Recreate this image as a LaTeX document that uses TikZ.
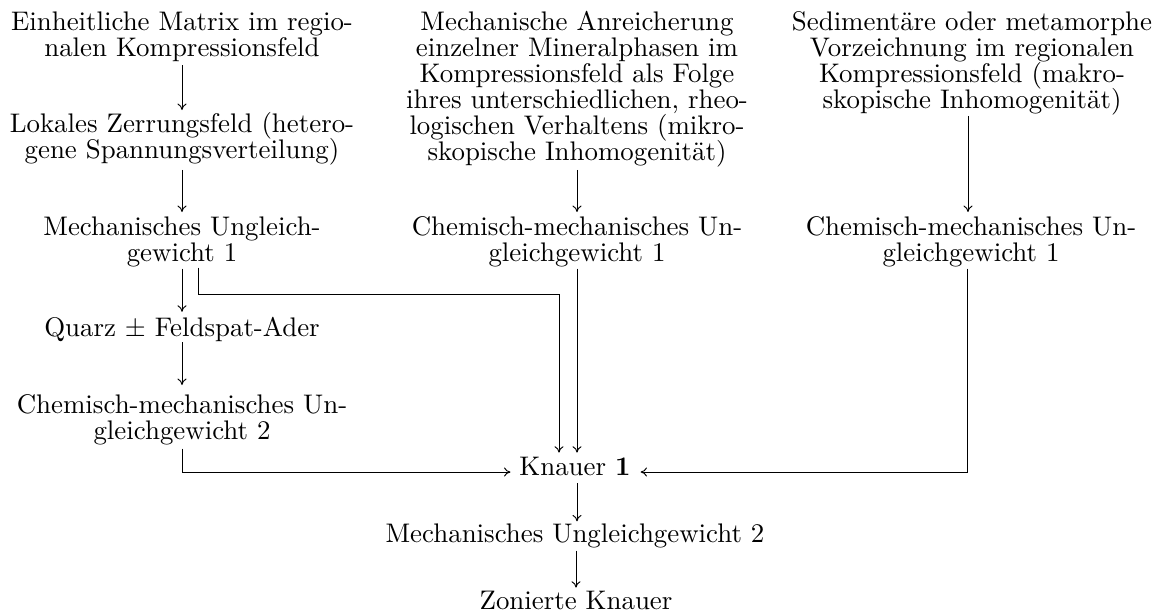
\documentclass[tikz,border=0pt]{standalone}
\usetikzlibrary{arrows.meta,calc}
\newcommand{\fstrut}{\vphantom{(}}
\begin{document}
\begin{tikzpicture}[x=0.372pt,y=-0.372pt,
  box/.style={inner sep=0pt, outer sep=0pt, align=center,
    font={\fontsize{10}{9.67}\selectfont\lineskiplimit=-20pt\lineskip=0pt}},
  arr/.style={-{To[length=2.4pt,width=3.4pt]}, line width=0.35pt}]
\useasboundingbox (0,0) rectangle (1162,611);
% left column
\node[box,anchor=north] (A1) at (182,10) {\fstrut Einheitliche Matrix im regio-\\nalen Kompressionsfeld};
\node[box,anchor=north] (A2) at (182,112) {\fstrut Lokales Zerrungsfeld (hetero-\\gene Spannungsverteilung)};
\node[box,anchor=north] (A3) at (182,215) {\fstrut Mechanisches Ungleich-\\gewicht 1};
\node[box,anchor=base] (Q) at (182,336) {Quarz $\pm$ Feldspat-Ader};
\node[box,anchor=north] (C2) at (182,393) {\fstrut Chemisch-mechanisches Un-\\gleichgewicht 2};
% middle column
\node[box,anchor=north] (M1) at (577,10) {\fstrut Mechanische Anreicherung\\einzelner Mineralphasen im\\Kompressionsfeld als Folge\\ihres unterschiedlichen, rheo-\\logischen Verhaltens (mikro-\\skopische Inhomogenität)};
\node[box,anchor=north] (M2) at (577,215) {\fstrut Chemisch-mechanisches Un-\\gleichgewicht 1};
% right column
\node[box,anchor=north] (R1) at (972,10) {\fstrut Sedimentäre oder metamorphe\\Vorzeichnung im regionalen\\Kompressionsfeld (makro-\\skopische Inhomogenität)};
\node[box,anchor=north] (R2) at (971,215) {\fstrut Chemisch-mechanisches Un-\\gleichgewicht 1};
% bottom
\node[box,anchor=base] (K) at (575,475) {Knauer \textbf{1}};
\node[box,anchor=base] (U2) at (575,542) {Mechanisches Ungleichgewicht 2};
\node[box,anchor=base] (Z) at (576,609) {Zonierte Knauer};
% connectors, left
\draw[arr] ($(A1.south)+(0,4)$) -- ($(A2.north)+(0,-2)$);
\draw[arr] ($(A2.south)+(0,5)$) -- ($(A3.north)+(0,-3)$);
\draw[arr] ($(A3.south)+(0,2)$) -- ($(Q.north)+(0,-5)$);
\draw[arr] ($(Q.south)+(0,1)$) -- ($(C2.north)+(0,-8)$);
\draw[arr] ($(A3.south)+(16,1)$) -- ++(0,27) -| ($(K.north)+(-16,-4)$);
\draw[arr] ($(C2.south)+(0,4)$) |- ($(K.base west)+(-9,-3)$);
% middle
\draw[arr] ($(M1.south)+(0,3)$) -- ($(M2.north)+(0,-3)$);
\draw[arr] ($(M2.south)+(0,2)$) -- ($(M2.south |- K.north)+(0,-4)$);
% right
\draw[arr] ($(R1.south -| R2.south)+(-3,1)$) -- ($(R2.north)+(-3,-3)$);
\draw[arr] ($(R2.south)+(-4,2)$) |- ($(K.base east)+(10,-3)$);
% bottom
\draw[arr] ($(K.south)+(2,8)$) -- ($(U2.north)+(2,-2)$);
\draw[arr] ($(U2.south)+(1,3)$) -- ($(Z.north)+(0,-3)$);
\end{tikzpicture}
\end{document}
